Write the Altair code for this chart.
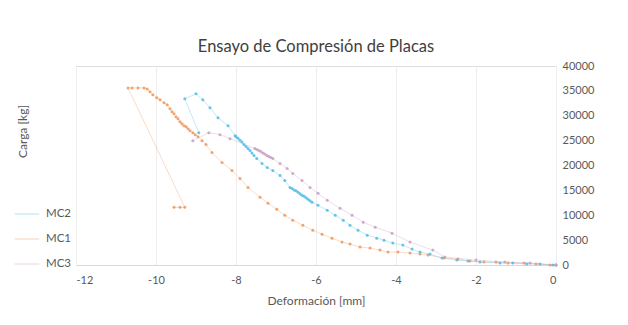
import altair as alt
import pandas as pd

# MC1 (orange)
mc1_x = [0, -0.15, -0.5, -0.8, -1.2, -1.5, -1.8, -2.15, -2.45, -2.8, -3.2, -3.4, -3.65, -3.95, -4.2,
         -4.4, -4.65, -4.9, -5.15, -5.35, -5.6, -5.85, -6.08, -6.33, -6.58, -6.78, -6.98, -7.2, -7.4,
         -7.7, -7.9, -8.1, -8.35, -8.6, -8.75, -8.85, -8.95, -9.02, -9.08, -9.15, -9.2, -9.25, -9.3,
         -9.35, -9.4, -9.45, -9.5, -9.55, -9.6, -9.65, -9.72, -9.8, -9.9, -9.98, -10.08, -10.15,
         -10.22, -10.3, -10.45, -10.6, -10.7, -9.28, -9.4, -9.55]
mc1_y = [0, 0, 200, 400, 400, 600, 600, 800, 1200, 1400, 2000, 2200, 2400, 2600, 2600,
         3000, 3400, 3600, 4200, 4600, 5400, 6200, 7000, 8000, 9000, 10000, 11200, 12400, 13600,
         15600, 17400, 19000, 20600, 22600, 24200, 25000, 25800, 26200, 26600, 27000, 27400, 27800, 28000,
         28400, 28800, 29400, 29800, 30400, 30800, 31400, 32200, 32600, 33200, 33600, 34200, 34800,
         35400, 35600, 35600, 35600, 35600, 11600, 11600, 11600]

# MC2 (light blue)
mc2_x = [0, -0.08, -0.4, -0.73, -1.08, -1.4, -1.9, -2.2, -2.48, -2.85, -3.15, -3.4, -3.6, -3.83,
         -4.08, -4.3, -4.48, -4.72, -4.95, -5.15, -5.32, -5.52, -5.72, -5.95, -6.1, -6.15, -6.2,
         -6.25, -6.3, -6.35, -6.4, -6.45, -6.5, -6.55, -6.6, -6.65, -6.78, -6.9, -7.08, -7.22,
         -7.35, -7.48, -7.55, -7.6, -7.65, -7.7, -7.75, -7.8, -7.85, -7.9, -7.95, -8.0, -8.02,
         -8.2, -8.45, -8.65, -8.83, -9.0, -9.28, -8.93]
mc2_y = [0, 0, 200, 200, 400, 400, 600, 800, 1000, 1400, 2200, 2600, 3200, 4000,
         4400, 5000, 5400, 6000, 7000, 8000, 9000, 10000, 11000, 12000, 12600, 12900, 13200,
         13500, 13800, 14000, 14300, 14600, 14900, 15100, 15400, 15600, 17000, 18000, 19000, 19600,
         20400, 21400, 22000, 22500, 23000, 23400, 23800, 24200, 24700, 25100, 25500, 25800, 26000,
         28000, 29600, 31600, 33200, 34400, 33400, 26600]

# MC3 (pink-violet)
mc3_x = [0, -0.65, -1.28, -2.0, -2.78, -3.08, -3.65, -4.1, -4.52, -4.82, -5.1, -5.4, -5.72, -5.95,
         -6.15, -6.35, -6.58, -6.72, -6.9, -7.08, -7.13, -7.18, -7.23, -7.28, -7.33, -7.38, -7.43,
         -7.48, -7.53, -8.15, -8.4, -8.68, -9.08]
mc3_y = [0, 400, 600, 1000, 1600, 3000, 4600, 6400, 7600, 8600, 10000, 11400, 13000, 14400,
         15600, 17000, 18400, 19400, 20400, 21400, 21600, 21800, 22000, 22300, 22500, 22800, 23000,
         23200, 23400, 25400, 26200, 26600, 25000]

series_names = ["MC2", "MC1", "MC3"]
series_colors = ["#55BFEA", "#F29A62", "#CBA2C8"]

rows = []
for name, xs, ys in [("MC1", mc1_x, mc1_y), ("MC2", mc2_x, mc2_y), ("MC3", mc3_x, mc3_y)]:
    for i, (a, b) in enumerate(zip(xs, ys)):
        rows.append({"serie": name, "x": a, "y": b, "i": i})
df = pd.DataFrame(rows)

FONT = "Lato"
GRAY = "#595959"

chart = alt.Chart(df).mark_line(
    strokeWidth=0.8, opacity=0.45,
    point=alt.OverlayMarkDef(filled=True, size=9, opacity=0.9)
).encode(
    x=alt.X("x:Q", scale=alt.Scale(domain=[-12, 0], nice=False),
            axis=alt.Axis(title="Deformación [mm]", values=[-12, -10, -8, -6, -4, -2, 0],
                          labelExpr="datum.value < 0 ? '-' + format(-datum.value, 'd') : format(datum.value, 'd')",
                          ticks=False, tickSize=0, labelPadding=9, grid=True,
                          gridColor="#eeeeee", domainColor="#d9d9d9",
                          labelColor=GRAY, labelFontSize=11, labelFont=FONT,
                          titleColor=GRAY, titleFontSize=12, titleFont=FONT,
                          titleFontWeight="normal", titlePadding=10)),
    y=alt.Y("y:Q", scale=alt.Scale(domain=[0, 40000], nice=False),
            axis=alt.Axis(orient="right", title="Carga [kg]",
                          values=[0, 5000, 10000, 15000, 20000, 25000, 30000, 35000, 40000],
                          format="d", ticks=False, tickSize=0, domain=False, grid=False,
                          labelPadding=6, labelColor=GRAY, labelFontSize=11, labelFont=FONT,
                          titleColor=GRAY, titleFontSize=12, titleFont=FONT,
                          titleFontWeight="normal", titleAngle=270,
                          titleX=-534, titleY=65, titleAlign="center", titleBaseline="middle")),
    color=alt.Color("serie:N",
                    scale=alt.Scale(domain=series_names, range=series_colors),
                    legend=alt.Legend(title=None, orient="none", legendX=-62, legendY=135,
                                      symbolType="stroke", symbolSize=600, symbolStrokeWidth=1,
                                      labelColor=GRAY, labelFontSize=11.5, labelFont=FONT,
                                      rowPadding=6, labelOffset=6)),
    order="i:Q",
).properties(
    width=480, height=199,
    autosize=alt.AutoSizeParams(type="none"),
    padding={"left": 68, "top": 58, "right": 64, "bottom": 52},
    title=alt.TitleParams("Ensayo de Compresión de Placas", fontSize=16.5, font=FONT,
                          fontWeight="normal", color="#404040", anchor="middle", offset=5),
).configure_view(stroke=None).configure(background="white")

chart.save("out.html", embed_options={"renderer": "svg", "actions": False})
